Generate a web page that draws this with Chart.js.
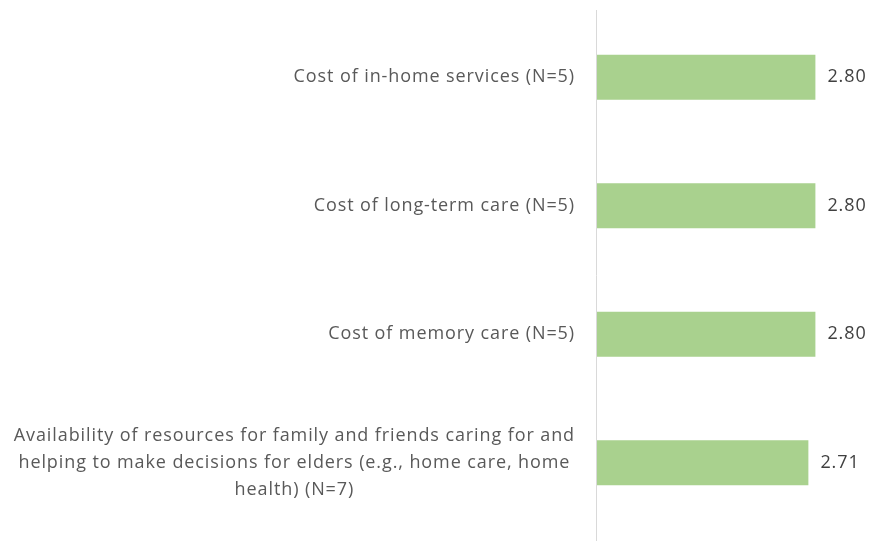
<!DOCTYPE html>
<html>
<head>
<meta charset="utf-8">
<script src="https://cdn.jsdelivr.net/npm/chart.js@4"></script>
<style>
  html, body { margin: 0; padding: 0; background: #fff; }
  canvas { display: block; }
</style>
</head>
<body>
<canvas id="concernChart" width="876" height="541"></canvas>
<script>
const categories = [
    'Cost of in-home services (N=5)',
    'Cost of long-term care (N=5)',
    'Cost of memory care (N=5)',
    ['Availability of resources for family and friends caring for and',
     'helping to make decisions for elders (e.g., home care, home',
     'health) (N=7)']
];
const scores = [2.80, 2.80, 2.80, 2.71];

const textColor = '#595959';
const labelFont = '18px "Open Sans", sans-serif';
const labelSpacing = '0.9px';

// category labels: block right-aligned to the axis, lines centred inside the block
const categoryLabels = {
    id: 'categoryLabels',
    afterDraw(chart) {
        const ctx = chart.ctx;
        const yScale = chart.scales.y;
        const right = chart.chartArea.left - 22;
        const lineHeight = 27;
        ctx.save();
        ctx.font = labelFont;
        ctx.letterSpacing = labelSpacing;
        ctx.fillStyle = textColor;
        ctx.textAlign = 'center';
        ctx.textBaseline = 'middle';
        chart.data.labels.forEach((label, i) => {
            const lines = Array.isArray(label) ? label : [label];
            const maxW = Math.max(...lines.map(l => ctx.measureText(l).width));
            const cx = right - maxW / 2;
            const cy = yScale.getPixelForValue(i);
            const startY = cy - (lines.length - 1) * lineHeight / 2;
            lines.forEach((line, j) => ctx.fillText(line, cx, startY + j * lineHeight));
        });
        ctx.restore();
    }
};

// value labels at the end of each bar, plus the vertical axis line
const valueLabels = {
    id: 'valueLabels',
    beforeDatasetsDraw(chart) {
        const ctx = chart.ctx;
        const x = Math.round(chart.chartArea.left) - 0.5;
        ctx.save();
        ctx.strokeStyle = '#d9d9d9';
        ctx.lineWidth = 1;
        ctx.beginPath();
        ctx.moveTo(x, chart.chartArea.top - 3);
        ctx.lineTo(x, chart.height);
        ctx.stroke();
        ctx.restore();
    },
    afterDatasetsDraw(chart) {
        const ctx = chart.ctx;
        const meta = chart.getDatasetMeta(0);
        ctx.save();
        ctx.font = labelFont;
        ctx.letterSpacing = labelSpacing;
        ctx.fillStyle = '#404040';
        ctx.textAlign = 'left';
        ctx.textBaseline = 'middle';
        meta.data.forEach((bar, i) => {
            ctx.fillText(scores[i].toFixed(2), bar.x + 12, bar.y);
        });
        ctx.restore();
    }
};

const ctx = document.getElementById('concernChart').getContext('2d');
const concernChart = new Chart(ctx, {
    type: 'bar',
    data: {
        labels: categories,
        datasets: [{
            data: scores,
            backgroundColor: '#a9d18e',
            borderWidth: 0,
            categoryPercentage: 1,
            barPercentage: 0.35
        }]
    },
    options: {
        indexAxis: 'y',
        responsive: false,
        animation: false,
        layout: { padding: { top: 13, bottom: 14, right: 6, left: 0 } },
        plugins: {
            legend: { display: false },
            tooltip: { enabled: false }
        },
        scales: {
            x: {
                display: false,
                min: 0,
                max: 3.5
            },
            y: {
                grid: { display: false },
                border: { display: false },
                ticks: { display: false },
                afterFit: scale => { scale.width = 597; }
            }
        }
    },
    plugins: [categoryLabels, valueLabels]
});
</script>
</body>
</html>
